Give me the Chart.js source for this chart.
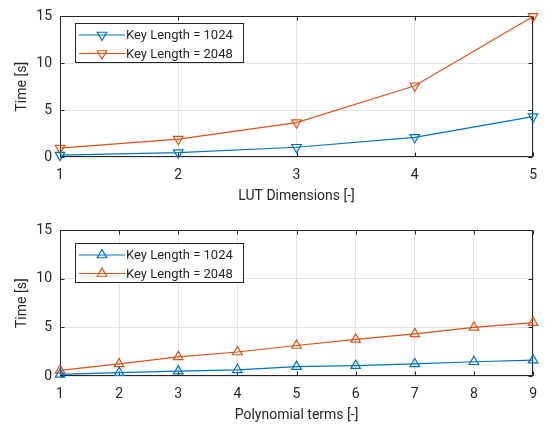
<!DOCTYPE html>
<html>
<head>
<meta charset="utf-8">
<script src="https://cdn.jsdelivr.net/npm/chart.js@4.4.1/dist/chart.umd.min.js"></script>
<style>
  html, body { margin: 0; padding: 0; background: #fff; }
  #wrap { position: relative; width: 547px; height: 428px; }
  .panel { position: absolute; left: 0; width: 547px; height: 214px; }
</style>
</head>
<body>
<div id="wrap">
  <div class="panel" style="top:0"><canvas id="lutChart" width="547" height="214"></canvas></div>
  <div class="panel" style="top:214px"><canvas id="polyChart" width="547" height="214"></canvas></div>
</div>
<script>
// values (seconds)
const lutDims = [1, 2, 3, 4, 5];
const lutTime1024 = [0.2, 0.47, 1.04, 2.1, 4.3];
const lutTime2048 = [0.95, 1.9, 3.67, 7.6, 15.0];

const polyTerms = [1, 2, 3, 4, 5, 6, 7, 8, 9];
const polyTime1024 = [0.17, 0.34, 0.5, 0.64, 0.97, 1.07, 1.24, 1.47, 1.64];
const polyTime2048 = [0.57, 1.24, 1.97, 2.47, 3.14, 3.77, 4.34, 5.0, 5.5];

const seriesLabels = ['Key Length = 1024', 'Key Length = 2048'];
const yTicks = [0, 5, 10, 15];

const BLUE = '#0072BD';
const ORANGE = '#D95319';
const AXIS = '#262626';
const GRID = '#e3e3e3';
const FONT = 'Roboto, "Liberation Sans", Arial, sans-serif';

function toPoints(xs, ys) {
    return xs.map((x, i) => ({ x: x, y: ys[i] }));
}

function triangle(ctx, x, y, r, down) {
    const s = down ? -1 : 1;
    ctx.beginPath();
    ctx.moveTo(x, y - s * r);
    ctx.lineTo(x + r * 0.866, y + s * r * 0.5);
    ctx.lineTo(x - r * 0.866, y + s * r * 0.5);
    ctx.closePath();
    ctx.stroke();
}

// MATLAB-ish box: full frame, inward ticks on all sides, legend inside the axes
const boxPlugin = {
    id: 'matlabBox',
    beforeDatasetsDraw(chart) {
        const { ctx, chartArea: a, scales } = chart;
        const L = Math.round(a.left) + 0.5, R = Math.round(a.right) - 0.5;
        const T = Math.round(a.top) + 0.5, B = Math.round(a.bottom) - 0.5;
        ctx.save();
        ctx.strokeStyle = AXIS;
        ctx.lineWidth = 1;
        ctx.strokeRect(L, T, R - L, B - T);
        ctx.beginPath();
        scales.x.ticks.forEach(t => {
            const px = Math.round(scales.x.getPixelForValue(t.value)) + 0.5;
            ctx.moveTo(px, B); ctx.lineTo(px, B - 4);
            ctx.moveTo(px, T); ctx.lineTo(px, T + 4);
        });
        scales.y.ticks.forEach(t => {
            const py = Math.round(scales.y.getPixelForValue(t.value)) + 0.5;
            ctx.moveTo(L, py); ctx.lineTo(L + 4, py);
            ctx.moveTo(R, py); ctx.lineTo(R - 4, py);
        });
        ctx.stroke();
        ctx.restore();
    },
    afterDatasetsDraw(chart, args, opts) {
        const { ctx } = chart;
        const x0 = opts.x, y0 = opts.y;
        ctx.save();
        ctx.fillStyle = '#fff';
        ctx.fillRect(x0, y0, 169, 40);
        ctx.strokeStyle = AXIS;
        ctx.lineWidth = 1;
        ctx.strokeRect(x0 + 0.5, y0 + 0.5, 168, 39);
        ctx.font = '13px ' + FONT;
        ctx.textBaseline = 'middle';
        chart.data.datasets.forEach((ds, i) => {
            const ry = y0 + 12 + i * 18.5;
            ctx.strokeStyle = ds.borderColor;
            ctx.lineWidth = 1.2;
            ctx.beginPath();
            ctx.moveTo(x0 + 4, ry);
            ctx.lineTo(x0 + 50, ry);
            ctx.stroke();
            triangle(ctx, x0 + 27, ry, 5.5, opts.down);
            ctx.fillStyle = AXIS;
            ctx.fillText(ds.label, x0 + 51, ry + 1);
        });
        ctx.restore();
    }
};

function makeChart(id, xs, ys1, ys2, xTitle, down, pad, xHeight, xTitlePad, legendPos) {
    const marker = {
        borderWidth: 1.2,
        pointStyle: 'triangle',
        pointRotation: down ? 180 : 0,
        pointRadius: 5.5,
        pointBorderWidth: 1.2,
        pointBackgroundColor: 'rgba(0,0,0,0)',
        pointHoverRadius: 5.5,
        tension: 0,
        clip: false
    };
    return new Chart(document.getElementById(id), {
        type: 'line',
        data: {
            datasets: [
                Object.assign({ label: seriesLabels[0], data: toPoints(xs, ys1), borderColor: BLUE, pointBorderColor: BLUE }, marker),
                Object.assign({ label: seriesLabels[1], data: toPoints(xs, ys2), borderColor: ORANGE, pointBorderColor: ORANGE }, marker)
            ]
        },
        options: {
            responsive: false,
            animation: false,
            layout: { padding: pad },
            plugins: {
                legend: { display: false },
                tooltip: { enabled: false },
                matlabBox: { x: legendPos[0], y: legendPos[1], down: down }
            },
            scales: {
                x: {
                    type: 'linear',
                    min: xs[0],
                    max: xs[xs.length - 1],
                    afterFit: s => { s.height = xHeight; },
                    afterBuildTicks: s => { s.ticks = xs.map(v => ({ value: v })); },
                    grid: { color: GRID, drawTicks: false },
                    border: { display: false },
                    ticks: { color: AXIS, font: { family: FONT, size: 14 }, padding: 10, maxRotation: 0 },
                    title: { display: true, text: xTitle, color: AXIS, font: { family: FONT, size: 14 }, padding: { top: 0, bottom: xTitlePad } }
                },
                y: {
                    min: 0,
                    max: 15,
                    afterFit: s => { s.width = 60; },
                    afterBuildTicks: s => { s.ticks = yTicks.map(v => ({ value: v })); },
                    grid: { color: GRID, drawTicks: false },
                    border: { display: false },
                    ticks: { color: AXIS, font: { family: FONT, size: 14 }, padding: 8 },
                    title: { display: true, text: 'Time [s]', color: AXIS, font: { family: FONT, size: 14 }, padding: { top: 14, bottom: 0 } }
                }
            }
        },
        plugins: [boxPlugin]
    });
}

makeChart('lutChart', lutDims, lutTime1024, lutTime2048, 'LUT Dimensions [-]', true,
    { left: 0, top: 9, right: 8, bottom: 0 }, 57, 9, [75, 23]);
makeChart('polyChart', polyTerms, polyTime1024, polyTime2048, 'Polynomial terms [-]', false,
    { left: 0, top: 13, right: 8, bottom: 0 }, 52, 4, [75, 29]);
</script>
</body>
</html>
